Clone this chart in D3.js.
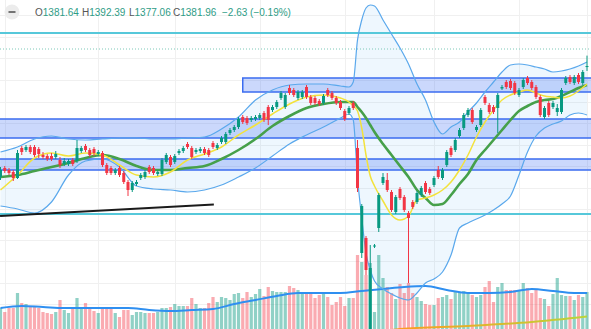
<!DOCTYPE html>
<html><head><meta charset="utf-8">
<script src="https://cdn.jsdelivr.net/npm/d3@7"></script>
<style>html,body{margin:0;padding:0;background:#fff;overflow:hidden}</style>
</head><body>
<svg id="chart" width="591" height="329"></svg>
<script>
// ---- daily bars ----
const open = [1271,1280,1278,1276,1270,1300,1298,1301,1301,1299,
 1293,1292,1292,1291,1288,1284,1284,1288,1287,1297,
 1302,1298,1299,1294,1295,1283,1280,1275,1280,1275,
 1266,1258,1264,1270,1271,1281,1280,1274,1274,1286,
 1291,1286,1295,1297,1304,1300,1296,1297,1299,1298,
 1305,1300,1306,1306,1315,1318,1321,1331,1330,1328,
 1329,1330,1335,1341,1338,1341,1350,1341,1360,1358,
 1350,1351,1361,1351,1350,1347,1345,1358,1355,1350,
 1346,1337,1335,1345,1300,1195,1210,1108,1201.5,1220,
 1265,1268,1256,1236,1259,1251,1235,1246,1246,1253,
 1265,1259,1263,1278,1270,1283,1300,1298,1312,1320,
 1333,1338,1318,1323,1351,1343,1341,1340,1359.5,1366,
 1367,1365,1353,1361,1370,1366,1361,1351,1331,1345,
 1341,1336,1336,1365,1371,1365,1373,1365,1381.64];
const high = [1281,1282,1280,1278,1298,1302,1303,1303,1303,1301,
 1296,1294,1295,1297,1291,1290,1289,1290,1308,1302,
 1304,1300,1301,1298,1297,1285,1282,1280,1282,1277,
 1268,1267,1268,1275,1278,1283,1282,1278,1290,1295,
 1293,1294,1299,1302,1306,1302,1300,1301,1301,1300,
 1307,1305,1312,1316,1320,1323,1331,1333,1332,1332,
 1333,1335,1337,1343,1343,1348,1357,1355,1363,1360,
 1358,1358,1363,1353,1352,1349,1354,1360,1357,1352,
 1348,1339,1342,1347,1308,1244,1212,1203,1204,1255,
 1275,1275,1258,1253,1261,1253,1237,1248,1257,1262,
 1267,1261,1272,1282,1280,1298,1302,1310,1320,1335,
 1340,1340,1323,1340,1353,1345,1343,1355,1363,1368,
 1369,1367,1360,1370,1372,1368,1363,1353,1342,1347,
 1347,1344,1360,1372,1373,1373,1375,1378,1392.39];
const low = [1268,1275,1273,1267,1269,1293,1296,1294,1291,1290,
 1289,1287,1287,1289,1280,1282,1282,1282,1285,1295,
 1296,1291,1292,1292,1281,1273,1273,1273,1271,1264,
 1252,1256,1262,1268,1269,1274,1273,1272,1272,1284,
 1281,1284,1293,1295,1299,1289,1294,1295,1293,1291,
 1299,1298,1304,1304,1313,1316,1319,1324,1323,1326,
 1327,1328,1326,1323,1336,1339,1348,1339,1353,1351,
 1348,1349,1349,1343,1343,1342,1343,1351,1348,1343,
 1338,1327,1333,1338,1256,1190,1173,1103,1200,1216,
 1263,1256,1236,1234,1248,1236,1165,1239,1244,1251,
 1254,1253,1261,1269,1268,1281,1291,1296,1310,1318,
 1331,1324,1316,1321,1343,1334,1334,1315,1358,1359,
 1358,1353,1351,1359,1363,1358,1349,1331,1329,1331,
 1339,1332,1334,1363,1364,1363,1364,1363,1377.06];
const close = [1278,1277,1275,1270,1295,1296,1301,1296,1293,1294,
 1291,1289,1289,1294,1283,1287,1287,1284,1300,1300,
 1298,1293,1295,1296,1283,1275,1275,1278,1273,1266,
 1258,1265,1266,1273,1276,1276,1275,1276,1288,1293,
 1283,1292,1297,1300,1301,1291,1298,1299,1295,1293,
 1301,1303,1310,1314,1318,1321,1329,1326,1325,1330,
 1331,1333,1328,1328,1341,1346,1355,1353,1355,1353,
 1356,1356,1351,1345,1345,1344,1352,1353,1350,1345,
 1340,1329,1340,1340,1260,1242,1178,1180,1202.5,1253,
 1271,1258,1238,1251,1250,1238,1230,1241,1255,1260,
 1256,1255,1270,1271,1278,1296,1293,1308,1318,1333,
 1338,1326,1321,1338,1345,1336,1336,1353,1361,1361,
 1360,1355,1358,1368,1365,1360,1351,1333,1340,1333,
 1345,1340,1358,1370,1366,1371,1366,1376,1381.96];
const volume = [21,17,21,21,36,26,25,22,22,21,
 17,16,15,17,29,19,16,21,31,22,
 26,20,18,16,22,22,21,16,12,19,
 19,14,17,17,16,16,16,17,21,21,
 22,25,23,23,23,31,25,21,21,26,
 32,27,32,31,29,35,36,31,37,32,
 35,40,33,42,38,37,37,37,43,41,
 39,35,35,35,31,34,35,32,24,27,
 32,23,31,31,74,67,54,66,17,74,
 51,42,36,30,45,36,46,36,32,28,
 25,24,24,31,32,34,30,37,37,38,
 36,34,32,34,42,48,27,42,46,39,
 39,39,39,46,41,36,39,31,30,23,
 35,51,34,33,33,29,34,32,37];

// ---- indicator lines (bar index -> value) ----
const lineIdx = [0,4,8,12,16,20,24,28,32,36,40,44,48,52,56,60,64,68,72,76,80,82,83,84,85,86,87,88,
 90,92,94,96,98,100,102,104,106,108,110,112,114,116,118,120,122,124,126,128,130,132,134,136,138];
const bbUpper = [1296,1301,1309,1312,1309,1308,1309,1310,1310,1309,1309,1310,1311,1319,1331,1348,1358,1363,1364,1364,1362,1361,1366,1408,1428,1440,1443,1442,
 1428,1414,1400,1384,1364,1348,1326,1314,1321,1326,1336,1345,1356,1366,1376,1383,1384,1383,1381,1379,1376,1377,1379,1382,1386];
const bbLower = [1242,1239,1235,1246,1273,1287,1289,1281,1262,1259,1258,1256,1258,1263,1271,1280,1292,1304,1313,1321,1330,1334,1328,1270,1230,1195,1178,1167,
 1159,1154,1150,1148,1155,1165,1169,1176,1193,1220,1225,1229,1233,1238,1244,1252,1273,1296,1312,1320,1324,1327,1333,1335,1333];
const maFast = [1258,1273,1290,1295,1292,1295,1293,1283,1273,1271,1276,1288,1294,1301,1313,1323,1334,1344,1351,1353,1350,1346,1342,1337,1320,1293,1272,1262,
 1247,1233,1228,1232,1248,1250,1253,1258,1266,1278,1293,1311,1326,1338,1348,1353,1356,1358,1355,1352,1351,1350,1352,1357,1364];
const maSlow = [1271,1273,1277,1281,1285,1290,1293,1289,1282,1278,1278,1280,1282,1289,1298,1309,1322,1332,1340,1344,1346,1346,1346,1341,1336,1330,1323,1316,
 1304,1293,1282,1271,1258,1250,1243,1244,1253,1264,1274,1288,1298,1308,1318,1328,1337,1342,1346,1348,1349,1352,1356,1360,1363];

const volMaIdx = [0,5,10,15,20,25,30,35,40,45,50,55,60,65,70,75,80,85,90,95,100,105,110,115,120,125,130,135,138];
const volMa = [21,23,22,21,21,21,21,19,18,19,20,25,29,33,36,36,36,38,40,42,43,39,36,36,37,40,38,36,36];
const volLongIdx = [92,94,110,125,138];
const volLong = [-1,0,3,7,12.5];

// ---- drawn levels ----
const zoneFrom = [57,-1,-1];
const zoneTop = [1370,1329,1289];
const zoneBottom = [1356,1310,1278];
const levelPrices = [1415,1234];
const dottedPrice = 1399;
const trendIdx = [-0.1,50.2];
const trendPrice = [1232,1243.5];
const gridIdx = [1,23,41,61,81,102,122,138];
const gridPrice = [1433,1411,1390,1368,1346,1325,1303,1282,1260,1239,1217];
const gridVol = [89,68,46,25];

// ---- header ----
const ohlcLabels = ["O","H","L","C"];
const ohlcValues = ["1381.64","1392.39","1377.06","1381.96"];
const changeText = "\u22122.63 (\u22120.19%)";

const W = 591, H = 329;
const svg = d3.select("#chart");
const x = d3.scaleLinear().domain([0,138]).range([0.5,587]);
const y = d3.scaleLinear().domain([1119,1448]).range([H,0]);
const vy = d3.scaleLinear().domain([0,100]).range([H,H-100]);

const UP = "#089981", DOWN = "#f23645";

// grid
const grid = svg.append("g").attr("stroke","#f0f0f0").attr("stroke-width",1);
grid.selectAll(".gx").data(gridIdx).join("line")
  .attr("x1",d=>Math.round(x(d))+0.5).attr("x2",d=>Math.round(x(d))+0.5).attr("y1",0).attr("y2",H);
grid.selectAll(".gy").data(gridPrice).join("line")
  .attr("x1",0).attr("x2",W).attr("y1",d=>Math.round(y(d))+0.5).attr("y2",d=>Math.round(y(d))+0.5);
grid.selectAll(".gv").data(gridVol).join("line")
  .attr("x1",0).attr("x2",W).attr("y1",d=>Math.round(vy(d))+0.5).attr("y2",d=>Math.round(vy(d))+0.5);

// Bollinger band fill
const bandPts = lineIdx.map((d,i)=>({i:d,u:bbUpper[i],l:bbLower[i]}));
svg.append("path").datum(bandPts)
  .attr("fill","rgba(33,150,243,0.08)")
  .attr("d",d3.area().curve(d3.curveMonotoneX).x(d=>x(d.i)).y0(d=>y(d.l)).y1(d=>y(d.u)));

// zones
svg.append("g").selectAll("rect").data(zoneTop).join("rect")
  .attr("x",(d,i)=>zoneFrom[i] < 0 ? -2 : x(zoneFrom[i]))
  .attr("width",(d,i)=>W + 4 - (zoneFrom[i] < 0 ? -2 : x(zoneFrom[i])))
  .attr("y",d=>y(d)).attr("height",(d,i)=>y(zoneBottom[i])-y(d))
  .attr("fill","rgba(56,104,242,0.26)").attr("stroke","#3b6cf0").attr("stroke-width",1.5);

// horizontal levels
svg.append("g").selectAll("line").data(levelPrices).join("line")
  .attr("x1",0).attr("x2",W).attr("y1",d=>y(d)).attr("y2",d=>y(d))
  .attr("stroke","#56c8da").attr("stroke-width",2);
svg.append("line").attr("x1",0).attr("x2",W).attr("y1",y(dottedPrice)).attr("y2",y(dottedPrice))
  .attr("stroke","#7cc9b8").attr("stroke-width",1).attr("stroke-dasharray","1,2");

// volume
svg.append("g").selectAll("rect").data(volume).join("rect")
  .attr("x",(d,i)=>x(i)-1.6).attr("width",3.2)
  .attr("y",d=>vy(d)).attr("height",d=>H-vy(d))
  .attr("fill",(d,i)=>close[i]>=open[i] ? "rgba(8,153,129,0.45)" : "rgba(242,54,69,0.42)");

const line = (idx, vals, ys) => d3.line().curve(d3.curveMonotoneX)
  .x((d,i)=>x(idx[i])).y(d=>ys(d))(vals);

svg.append("path").attr("d",line(volMaIdx,volMa,vy))
  .attr("fill","none").attr("stroke","#2f8ff0").attr("stroke-width",2);

const grad = svg.append("defs").append("linearGradient").attr("id","longGrad")
  .attr("gradientUnits","userSpaceOnUse")
  .attr("x1",x(volLongIdx[0])).attr("x2",x(volLongIdx[volLongIdx.length-1])).attr("y1",0).attr("y2",0);
grad.append("stop").attr("offset","0%").attr("stop-color","#ff9a1f");
grad.append("stop").attr("offset","100%").attr("stop-color","#b9d53a");
svg.append("path").attr("d",line(volLongIdx,volLong,vy))
  .attr("fill","none").attr("stroke","url(#longGrad)").attr("stroke-width",2);

// band edges and averages
svg.append("path").attr("d",line(lineIdx,bbUpper,y)).attr("fill","none").attr("stroke","#5aa8ec").attr("stroke-width",1.2);
svg.append("path").attr("d",line(lineIdx,bbLower,y)).attr("fill","none").attr("stroke","#5aa8ec").attr("stroke-width",1.2);
svg.append("path").attr("d",line(lineIdx,maSlow,y)).attr("fill","none").attr("stroke","#46a04a").attr("stroke-width",2.6);
svg.append("path").attr("d",line(lineIdx,maFast,y)).attr("fill","none").attr("stroke","#f3e23c").attr("stroke-width",1.5);

// candles
const c = svg.append("g").selectAll("g").data(open).join("g")
  .attr("fill",(d,i)=>close[i]>=open[i]?UP:DOWN)
  .attr("stroke",(d,i)=>close[i]>=open[i]?UP:DOWN);
c.append("line").attr("x1",(d,i)=>x(i)).attr("x2",(d,i)=>x(i))
  .attr("y1",(d,i)=>y(high[i])).attr("y2",(d,i)=>y(low[i])).attr("stroke-width",1);
c.append("rect").attr("stroke","none")
  .attr("x",(d,i)=>x(i)-1.5).attr("width",3)
  .attr("y",(d,i)=>y(Math.max(open[i],close[i])))
  .attr("height",(d,i)=>Math.max(1,Math.abs(y(open[i])-y(close[i]))));

// trend line
svg.append("line").attr("x1",x(trendIdx[0])).attr("y1",y(trendPrice[0]))
  .attr("x2",x(trendIdx[1])).attr("y2",y(trendPrice[1]))
  .attr("stroke","#1b1b1b").attr("stroke-width",2);

// header
const hd = svg.append("g").attr("font-family","Liberation Sans, Arial, sans-serif").attr("font-size",10);
hd.append("circle").attr("cx",12).attr("cy",12).attr("r",7.5).attr("fill","#ececec");
hd.append("line").attr("x1",8.5).attr("x2",15.5).attr("y1",12).attr("y2",12).attr("stroke","#555").attr("stroke-width",1.6);
const hx = [35,82,129,173];
ohlcLabels.forEach((lab,i)=>{
  const t = hd.append("text").attr("x",hx[i]).attr("y",16);
  t.append("tspan").attr("fill","#555").text(lab);
  t.append("tspan").attr("fill","#2e9c86").text(ohlcValues[i]);
});
hd.append("text").attr("x",222).attr("y",16).attr("fill","#2e9c86").text(changeText);
</script>
</body></html>
